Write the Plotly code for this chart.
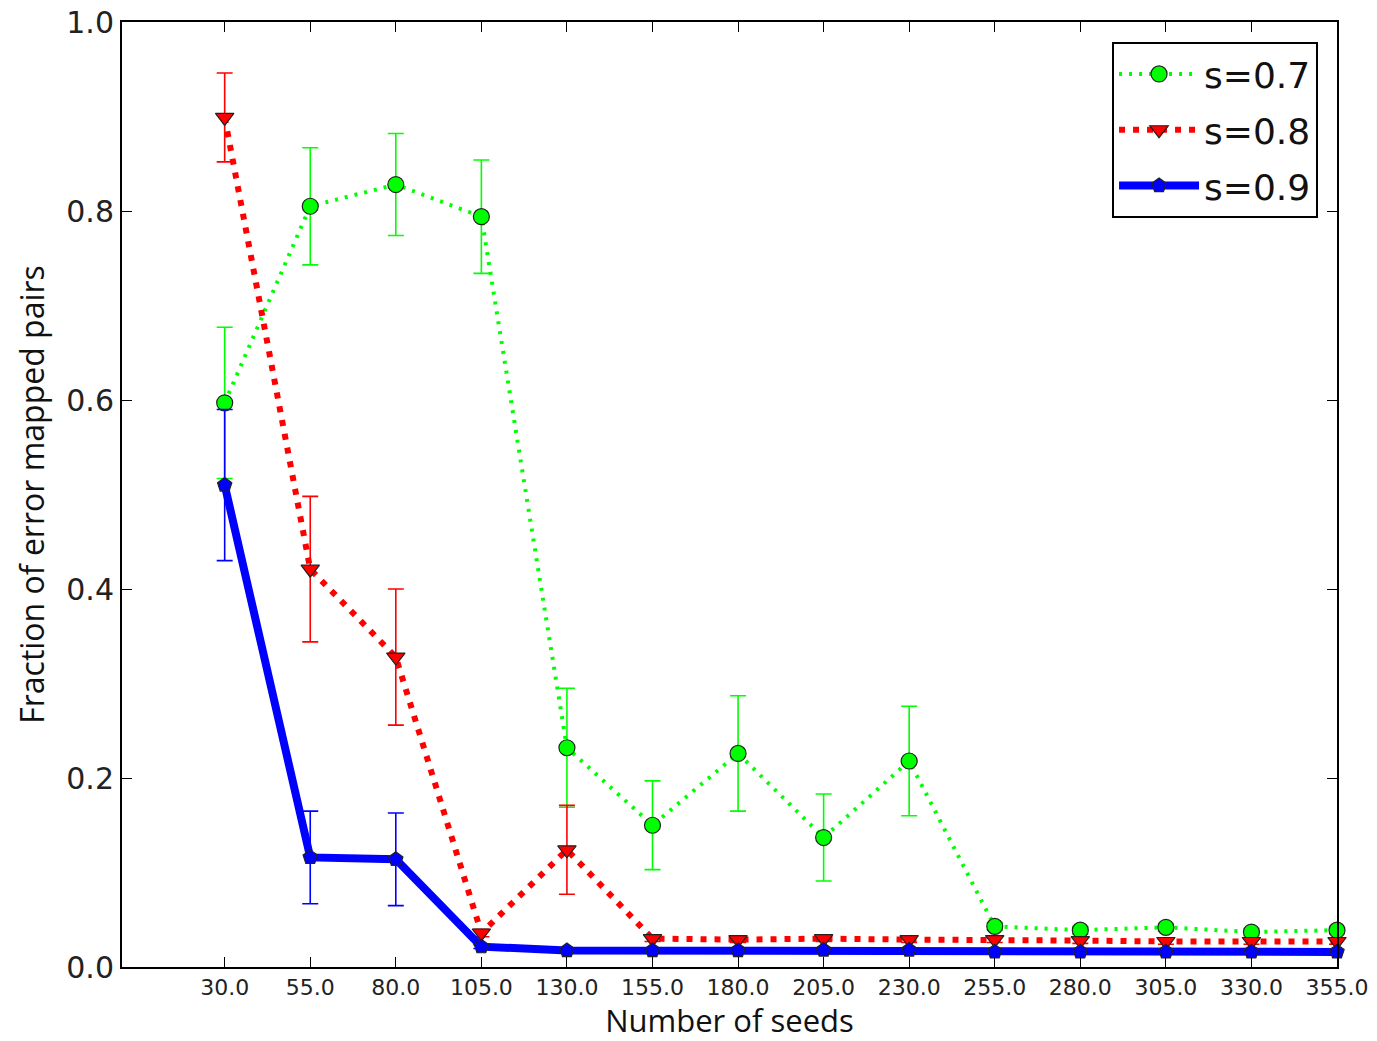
import plotly.graph_objects as go

seeds = [30, 55, 80, 105, 130, 155, 180, 205, 230, 255, 280, 305, 330, 355]
tick_labels = [f"{s:.1f}" for s in seeds]

s07 = [0.597, 0.805, 0.828, 0.794, 0.232, 0.150, 0.226, 0.137, 0.218, 0.043, 0.039, 0.042, 0.037, 0.039]
s07_err = [0.080, 0.062, 0.054, 0.060, 0.063, 0.047, 0.061, 0.046, 0.058, 0.004, 0.004, 0.004, 0.004, 0.004]

s08 = [0.899, 0.421, 0.328, 0.036, 0.124, 0.030, 0.029, 0.030, 0.029, 0.029, 0.028, 0.027, 0.027, 0.027]
s08_err = [0.047, 0.077, 0.072, 0.004, 0.047, 0.003, 0.003, 0.003, 0.003, 0.003, 0.003, 0.003, 0.003, 0.003]

s09 = [0.510, 0.116, 0.114, 0.0215, 0.0175, 0.0175, 0.0175, 0.018, 0.018, 0.016, 0.016, 0.016, 0.016, 0.016]
s09_err = [0.080, 0.049, 0.049, 0.002, 0.002, 0.002, 0.002, 0.002, 0.002, 0.002, 0.002, 0.002, 0.002, 0.002]

series = [
    dict(name="s=0.7", y=s07, err=s07_err, color="#00ff00", width=4, dash="3px,7px",
         symbol="circle", size=16),
    dict(name="s=0.8", y=s08, err=s08_err, color="#ff0000", width=6, dash="6px,8px",
         symbol="triangle-down", size=16),
    dict(name="s=0.9", y=s09, err=s09_err, color="#0000ff", width=8, dash="solid",
         symbol="pentagon", size=15),
]

fig = go.Figure()
for s in series:
    fig.add_trace(go.Scatter(
        x=seeds, y=s["y"], name=s["name"], mode="lines+markers",
        legendgroup=s["name"],
        line=dict(color=s["color"], width=s["width"], dash=s["dash"]),
        marker=dict(symbol=s["symbol"], size=s["size"], color=s["color"],
                    line=dict(color="#222222", width=1.2)),
        error_y=dict(type="data", array=s["err"], visible=True,
                     color=s["color"], thickness=1.6, width=8),
        cliponaxis=False,
    ))

axis_common = dict(
    showgrid=False, zeroline=False, showline=True, linecolor="black", linewidth=2,
    mirror="ticks", ticks="inside", ticklen=10, tickwidth=1, tickcolor="black",
    automargin=False,
)

fig.update_layout(
    width=1377, height=1041,
    margin=dict(l=122, r=40, t=22, b=74),
    paper_bgcolor="white", plot_bgcolor="white",
    showlegend=True,
    legend=dict(
        x=0.9844, y=0.9788, xanchor="right", yanchor="top",
        bgcolor="white", bordercolor="black", borderwidth=2,
        font=dict(family="DejaVu Sans", size=36, color="#111111"),
        itemwidth=80, tracegroupgap=6,
    ),
    xaxis=dict(
        range=[0, 355], tickvals=seeds, ticktext=tick_labels,
        tickfont=dict(family="DejaVu Sans", size=22, color="#222222"),
        title=dict(text="Number of seeds", standoff=8,
                   font=dict(family="Open Sans", size=31, color="#111111")),
        **axis_common,
    ),
    yaxis=dict(
        range=[0, 1.0], tickvals=[0, 0.2, 0.4, 0.6, 0.8, 1.0],
        ticktext=["0.0", "0.2", "0.4", "0.6", "0.8", "1.0"],
        tickfont=dict(family="DejaVu Sans", size=30, color="#222222"),
        title=dict(text="Fraction of error mapped pairs", standoff=12,
                   font=dict(family="Open Sans", size=32, color="#111111")),
        **axis_common,
    ),
)

fig.write_html("out.html")
